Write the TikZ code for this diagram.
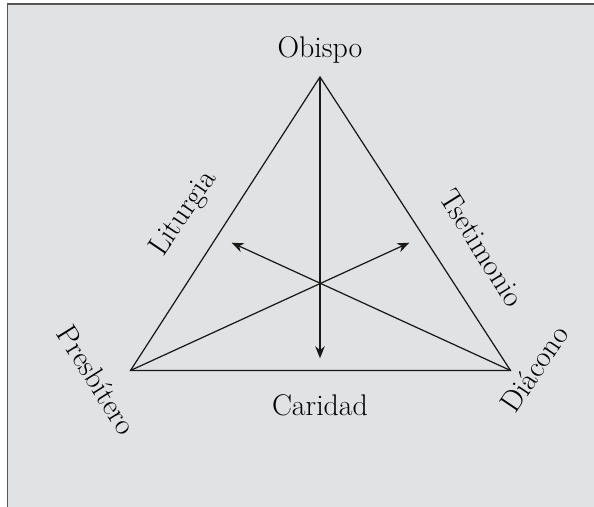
\documentclass[tikz,border=0pt]{standalone}
\usepackage{fontspec}
\usetikzlibrary{arrows.meta}

\definecolor{paneback}{RGB}{225,226,228}
\definecolor{paneline}{RGB}{85,85,85}

\begin{document}
\begin{tikzpicture}[label/.style={font=\fontsize{17}{20}\selectfont,inner sep=0pt},
		side/.style={line width=0.7pt,color=black!90},
		ray/.style={->,>={Stealth[length=2.4mm,width=1.9mm]},line width=0.7pt,color=black!90}]
			\useasboundingbox (0,0) rectangle (11.88,10.14);
			\fill[paneback] (0.15,0) rectangle (11.88,10.06);
			\draw[paneline,line width=1.1pt] (0.15,0) -- (0.15,10.06) -- (11.88,10.06);
			\coordinate (apex) at (6.40,8.60);
			\coordinate (bl) at (2.61,2.73);
			\coordinate (br) at (10.21,2.73);
			\coordinate (lt) at (4.634,5.286);
			\coordinate (rt) at (8.186,5.286);
			\coordinate (dn) at (6.40,2.974);
			\node[label] (obispo) at (6.40,9.14){Obispo};
			\node[label] (caridad) at (6.40,2.04){Caridad};
			\node[label,rotate=56] (liturgia) at (3.68,5.86){Liturgia};
			\node[label,rotate=-58] (testimonio) at (9.64,5.18){Tsetimonio};
			\node[label,rotate=-58] (presbitero) at (1.94,2.54){Presbítero};
			\node[label,rotate=56] (diacono) at (10.68,2.76){Diácono};
			\draw[side] (apex) -- (bl) -- (br) -- cycle;
			\draw (apex) edge [ray] (dn);
			\draw (bl) edge [ray] (rt);
			\draw (br) edge [ray] (lt);
		\end{tikzpicture}
\end{document}
